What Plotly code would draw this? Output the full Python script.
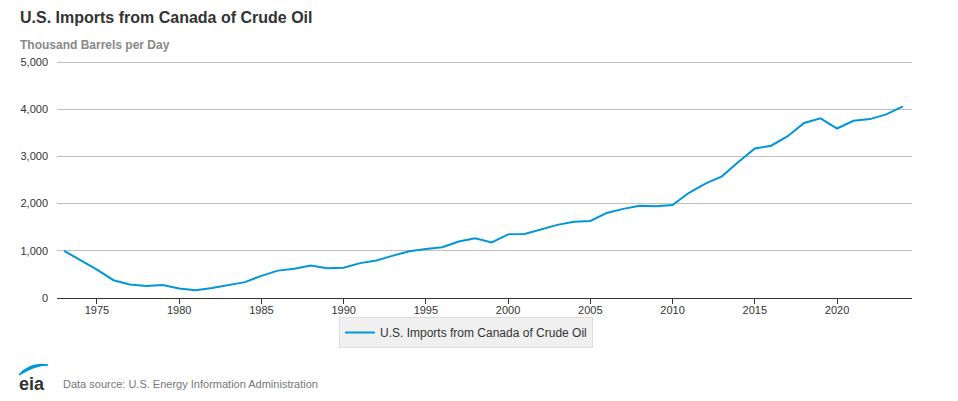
import plotly.graph_objects as go

years = list(range(1973, 2025))
imports = [1000, 800, 600, 377, 286, 254, 274, 200, 164, 211, 270, 336, 469, 580, 622, 688, 630, 643,
           739, 795, 898, 989, 1040, 1075, 1198, 1266, 1178, 1348, 1356, 1445, 1549, 1616, 1633, 1802,
           1888, 1956, 1943, 1970, 2229, 2424, 2578, 2881, 3169, 3226, 3428, 3707, 3807, 3591, 3755,
           3790, 3890, 4060]
series_name = "U.S. Imports from Canada of Crude Oil"
title_text = "U.S. Imports from Canada of Crude Oil"
subtitle_text = "Thousand Barrels per Day"
source_text = "Data source: U.S. Energy Information Administration"
x_ticks = [1975, 1980, 1985, 1990, 1995, 2000, 2005, 2010, 2015, 2020]
y_ticks = [0, 1000, 2000, 3000, 4000, 5000]

OFF = 8  # page body margin
W, H = 958 - 2 * OFF, 401 - 2 * OFF
L, R, T, B = 57 - OFF, 912 - OFF, 58 - OFF, 298 - OFF
YMAX = 5000 * (B - T) / 236.0


def px(x):
    return (x - OFF - L) / (R - L)


def py(y):
    return (B - (y - OFF)) / (B - T)


FONT = "Liberation Sans, Arial, sans-serif"

fig = go.Figure()
fig.add_trace(go.Scatter(
    x=years, y=imports, mode="lines", name=series_name,
    line=dict(color="#0096d7", width=2),
))

fig.update_layout(
    width=W, height=H,
    margin=dict(l=L, r=W - R, t=T, b=H - B, pad=0),
    paper_bgcolor="white", plot_bgcolor="white",
    font=dict(family=FONT, size=11, color="#333333"),
    showlegend=True,
    legend=dict(
        orientation="h", x=px(466), xanchor="center", y=py(317), yanchor="top",
        bgcolor="#f0f0f0", bordercolor="#dddddd", borderwidth=1,
        font=dict(family=FONT, size=12, color="#333333"),
        itemwidth=30,
    ),
    xaxis=dict(
        range=[1972.57, 2024.56], tickvals=x_ticks, showgrid=False,
        showline=True, linecolor="#333333", linewidth=1,
        ticks="outside", ticklen=5, tickcolor="#333333", ticklabelstandoff=-3,
        tickfont=dict(size=11, color="#333333"), zeroline=False,
    ),
    yaxis=dict(
        range=[0, YMAX], tickvals=y_ticks, tickformat=",d",
        showgrid=True, gridcolor="#c0c0c0", gridwidth=1,
        showline=False, zeroline=False, ticks="", ticklabelstandoff=8,
        tickfont=dict(size=11, color="#333333"),
    ),
    annotations=[
        dict(text="<b>" + title_text + "</b>", xref="paper", yref="paper",
             x=px(18), y=py(18), xanchor="left", yanchor="middle", showarrow=False,
             font=dict(family=FONT, size=16, color="#333333")),
        dict(text="<b>" + subtitle_text + "</b>", xref="paper", yref="paper",
             x=px(18), y=py(45), xanchor="left", yanchor="middle", showarrow=False,
             font=dict(family=FONT, size=12, color="#888888")),
        dict(text=source_text, xref="paper", yref="paper",
             x=px(61), y=py(384), xanchor="left", yanchor="middle", showarrow=False,
             font=dict(family=FONT, size=11, color="#777777")),
        dict(text="<b>eia</b>", xref="paper", yref="paper",
             x=px(17), y=py(384), xanchor="left", yanchor="middle", showarrow=False,
             font=dict(family=FONT, size=18, color="#333333")),
    ],
    shapes=[
        dict(type="path", xref="paper", yref="paper",
             path=f"M {px(19)},{py(375)} Q {px(30)},{py(362)} {px(48)},{py(365)} "
                  f"Q {px(34)},{py(365)} {px(19)},{py(375)} Z",
             fillcolor="#0096d7", line=dict(color="#0096d7", width=1.5)),
    ],
)

fig.write_html("out.html")
